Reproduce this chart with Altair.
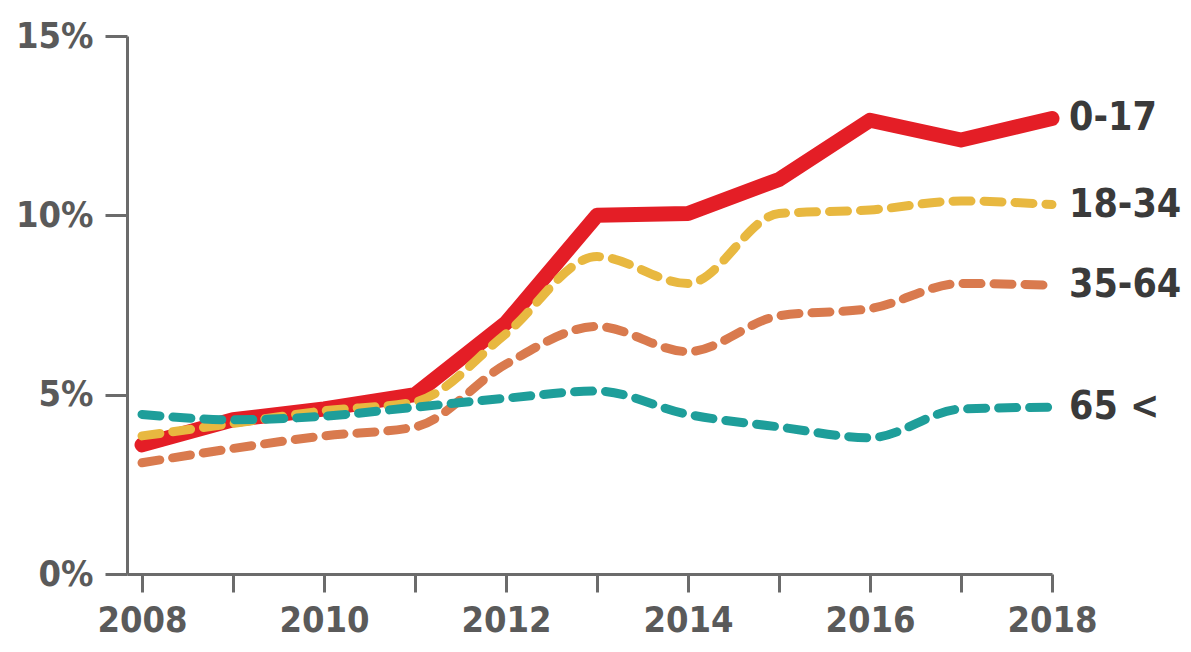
import altair as alt
import pandas as pd

years = [2008, 2009, 2010, 2011, 2012, 2013, 2014, 2015, 2016, 2017, 2018]
groups = ["0-17", "18-34", "35-64", "65 <"]
v_0_17 = [3.6, 4.3, 4.6, 5.0, 7.0, 10.0, 10.05, 11.0, 12.65, 12.1, 12.7]
v_18_34 = [3.85, 4.2, 4.55, 4.8, 6.7, 8.85, 8.1, 10.05, 10.15, 10.4, 10.3]
v_35_64 = [3.1, 3.5, 3.85, 4.1, 5.85, 6.9, 6.2, 7.2, 7.4, 8.1, 8.05]
v_65 = [4.45, 4.3, 4.4, 4.65, 4.9, 5.1, 4.45, 4.1, 3.8, 4.6, 4.65]
colors = ["#e41e26", "#e8b840", "#d97a4e", "#1e9e9a"]

series = {"0-17": v_0_17, "18-34": v_18_34, "35-64": v_35_64, "65 <": v_65}
rows = []
for g in groups:
    for y, v in zip(years, series[g]):
        rows.append({"year": y, "value": v, "group": g})
df = pd.DataFrame(rows)

FONT = "DejaVu Sans Condensed"
AX = "#6b6b6b"

x = alt.X("year:Q",
          scale=alt.Scale(domain=[2007.835, 2018], nice=False, zero=False),
          axis=alt.Axis(values=years, format="d",
                        labelExpr="datum.value % 2 == 0 ? datum.label : ''",
                        title=None, grid=False, domainColor=AX, domainWidth=3,
                        tickColor=AX, tickWidth=3, tickSize=18,
                        labelFont=FONT, labelFontSize=36, labelFontWeight="bold",
                        labelColor="#5a5a5a", labelPadding=11, labelFlush=False))
y = alt.Y("value:Q",
          scale=alt.Scale(domain=[0, 15], nice=False),
          axis=alt.Axis(values=[0, 5, 10, 15], labelExpr="datum.value + '%'",
                        title=None, grid=False, domainColor=AX, domainWidth=3,
                        tickColor=AX, tickWidth=3, tickSize=22,
                        labelFont=FONT, labelFontSize=36, labelFontWeight="bold",
                        labelColor="#5a5a5a", labelPadding=12))

styles = {
    "0-17": dict(strokeWidth=15, interpolate="linear"),
    "18-34": dict(strokeWidth=9, strokeDash=[18, 13], interpolate="monotone"),
    "35-64": dict(strokeWidth=9, strokeDash=[18, 13], interpolate="monotone"),
    "65 <": dict(strokeWidth=9, strokeDash=[18, 13], interpolate="monotone"),
}
draw_order = ["0-17", "35-64", "18-34", "65 <"]

layers = []
for g in draw_order:
    c = colors[groups.index(g)]
    layers.append(
        alt.Chart(df[df.group == g]).mark_line(
            color=c, strokeCap="round", strokeJoin="round", **styles[g]
        ).encode(x=x, y=y)
    )

last = df[df.year == 2018]
labels = alt.Chart(last).mark_text(
    align="left", baseline="middle", dx=17, font=FONT, fontSize=39,
    fontWeight="bold", color="#3a3a3a"
).encode(x=x, y=y, text="group:N")
layers.append(labels)

chart = alt.layer(*layers).properties(
    width=925, height=538,
    autosize=alt.AutoSizeParams(type="none"),
    padding={"left": 119, "top": 28, "right": 130, "bottom": 69},
).configure(background="white").configure_view(stroke=None)

chart.save("out.html", embed_options={"renderer": "svg", "actions": False})
